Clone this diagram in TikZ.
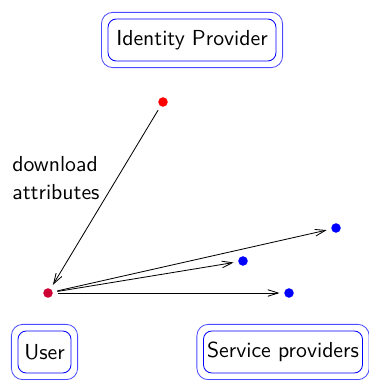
\documentclass[tikz,border=0pt]{standalone}
\usetikzlibrary{arrows.meta,fit}
\begin{document}
\begin{tikzpicture}[x=0.483pt,y=-0.483pt, font=\sffamily\fontsize{10.5pt}{13.6pt}\selectfont, line width=0.4pt,
  inbox/.style={draw=blue, rounded corners=4pt, minimum height=20.3pt, inner sep=0pt},
  outbox/.style={draw=blue!70, rounded corners=5.5pt, inner sep=3pt},
  dot/.style={circle, fill=#1, inner sep=0pt, minimum size=4.6pt, outer sep=2.3pt},
  arr/.style={-{Straight Barb[length=5pt,width=3.2pt]}}]
\useasboundingbox (0,0) rectangle (368,380);
% boxes
\node[inbox, minimum width=81.1pt] (idp) at (192,40) {Identity Provider};
\node[outbox, fit=(idp)] (idpo) {};
\node[inbox, minimum width=25.6pt] (user) at (44.5,352) {User};
\node[outbox, fit=(user)] (usero) {};
\node[inbox, minimum width=76.8pt] (sp) at (283,352) {Service providers};
\node[outbox, fit=(sp)] (spo) {};
% dots
\node[dot=red] (idpd) at (163,102) {};
\node[dot=red!80!blue] (userd) at (48,293) {};
\node[dot=blue] (sp1) at (336,228) {};
\node[dot=blue] (sp2) at (243,261) {};
\node[dot=blue] (sp3) at (289,293) {};
% label
\node[align=left, anchor=west, inner sep=0pt] (lbl) at (12,178) {download\\attributes};
% connectors
\draw[arr] (idpd) -- (userd);
\draw[arr] (userd) -- (sp1);
\draw[arr] (userd) -- (sp2);
\draw[arr] (userd) -- (sp3);
\end{tikzpicture}
\end{document}
